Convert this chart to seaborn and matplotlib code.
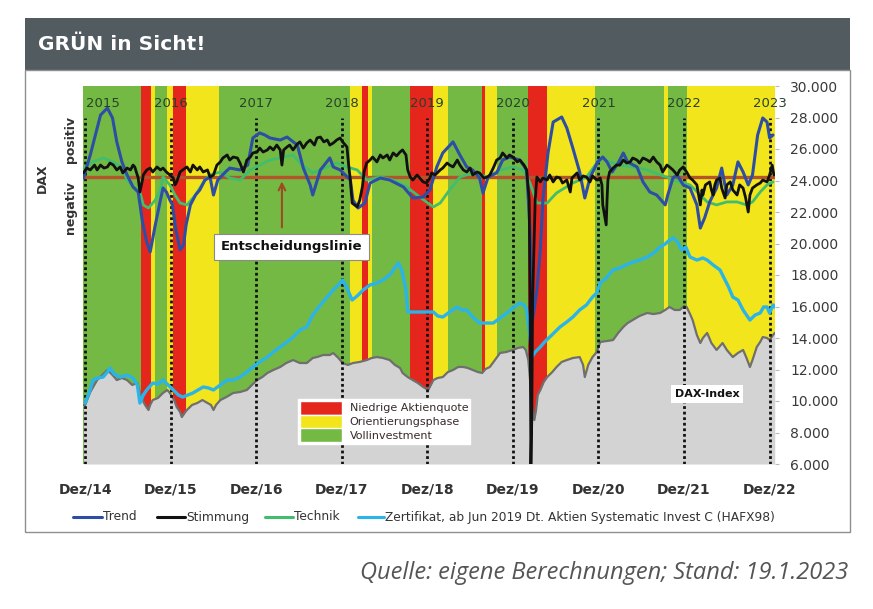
import numpy as np
import pandas as pd
import matplotlib
matplotlib.use("Agg")
import matplotlib.pyplot as plt
import seaborn as sns
from matplotlib.patches import Rectangle, Patch
from matplotlib.lines import Line2D
from matplotlib.ticker import FuncFormatter

sns.set_style("white")
plt.rcParams['font.family'] = ['DejaVu Sans']

# ---------------- data ----------------
# regime bands: boundaries (decimal years) and kind of each band
regime_bounds = [2014.97, 2015.654, 2015.768, 2015.818, 2015.954, 2016.032, 2016.176,
                 2016.569, 2018.096, 2018.232, 2018.31, 2018.349, 2018.797, 2019.069,
                 2019.244, 2019.634, 2019.673, 2019.81, 2020.18, 2020.394, 2020.958,
                 2021.764, 2021.811, 2022.033, 2023.07]
regime_kind = ['G', 'R', 'Y', 'G', 'Y', 'R', 'Y', 'G', 'Y', 'R', 'Y', 'G', 'R', 'Y',
               'G', 'R', 'Y', 'G', 'R', 'Y', 'G', 'Y', 'G', 'Y']

trend_x = [2014.98, 2015.06, 2015.18, 2015.26, 2015.32, 2015.37, 2015.43, 2015.49, 2015.56, 2015.62,
           2015.67, 2015.72, 2015.76, 2015.82, 2015.88, 2015.91, 2015.95, 2015.99, 2016.02, 2016.06,
           2016.11, 2016.15, 2016.18, 2016.23, 2016.29, 2016.34, 2016.40, 2016.46, 2016.50, 2016.55,
           2016.64, 2016.69, 2016.81, 2016.90, 2016.96, 2017.04, 2017.10, 2017.16, 2017.28, 2017.36,
           2017.48, 2017.55, 2017.63, 2017.66, 2017.75, 2017.86, 2017.90, 2017.98, 2018.10, 2018.13,
           2018.19, 2018.27, 2018.33, 2018.45, 2018.56, 2018.72, 2018.83, 2018.95, 2019.03, 2019.11,
           2019.18, 2019.30, 2019.38, 2019.46, 2019.53, 2019.61, 2019.65, 2019.71, 2019.81, 2019.88,
           2019.96, 2020.08, 2020.16, 2020.20, 2020.23, 2020.28, 2020.32, 2020.35, 2020.41, 2020.47,
           2020.57, 2020.63, 2020.70, 2020.78, 2020.84, 2020.90, 2020.99, 2021.05, 2021.10, 2021.16,
           2021.23, 2021.29, 2021.34, 2021.45, 2021.52, 2021.60, 2021.68, 2021.78, 2021.81, 2021.87,
           2021.92, 2021.99, 2022.07, 2022.15, 2022.19, 2022.24, 2022.30, 2022.38, 2022.44, 2022.50,
           2022.57, 2022.63, 2022.69, 2022.75, 2022.80, 2022.86, 2022.92, 2022.97, 2023.00, 2023.04]
trend_y = [24160, 25620, 28160, 28600, 27970, 26450, 25180, 24350, 23590, 23270,
           21370, 20100, 19460, 21180, 22760, 23520, 23270, 22760, 22450, 20860,
           19590, 19900, 21180, 22450, 23080, 23400, 24030, 24220, 23080, 24030,
           24540, 24790, 24670, 24980, 26700, 27020, 26890, 26700, 26570, 26760,
           26250, 24790, 23720, 23080, 24670, 25430, 24860, 24670, 24030, 22760,
           22250, 22570, 23840, 24160, 24030, 23590, 22890, 22950, 23400, 24860,
           25750, 26450, 25620, 24860, 24670, 24160, 23210, 24220, 24480, 25300,
           25490, 25300, 24670, 20860, 15140, 17050, 19590, 22760, 25750, 27710,
           28030, 27330, 26060, 24540, 22890, 24160, 25180, 25490, 25180, 24540,
           25110, 25750, 25180, 24860, 23910, 23270, 23080, 22450, 23080, 24160,
           24350, 23720, 23520, 22450, 20980, 21620, 22640, 23520, 24790, 23080,
           23720, 25180, 24540, 23720, 24350, 26890, 27970, 27710, 26700, 26890]

stim_x = [2014.98, 2015.02, 2015.06, 2015.11, 2015.14, 2015.18, 2015.22, 2015.26, 2015.29, 2015.33,
          2015.37, 2015.41, 2015.44, 2015.49, 2015.53, 2015.56, 2015.58, 2015.62, 2015.64, 2015.67,
          2015.68, 2015.72, 2015.76, 2015.79, 2015.84, 2015.88, 2015.91, 2015.95, 2015.99, 2016.03,
          2016.05, 2016.07, 2016.11, 2016.14, 2016.19, 2016.23, 2016.26, 2016.31, 2016.34, 2016.38,
          2016.43, 2016.46, 2016.50, 2016.54, 2016.58, 2016.61, 2016.66, 2016.69, 2016.73, 2016.78,
          2016.81, 2016.85, 2016.89, 2016.93, 2016.96, 2017.01, 2017.04, 2017.08, 2017.13, 2017.16,
          2017.20, 2017.24, 2017.28, 2017.30, 2017.32, 2017.36, 2017.39, 2017.43, 2017.48, 2017.51,
          2017.55, 2017.59, 2017.63, 2017.68, 2017.71, 2017.75, 2017.79, 2017.83, 2017.86, 2017.90,
          2017.94, 2017.98, 2018.01, 2018.06, 2018.08, 2018.10, 2018.12, 2018.18, 2018.21, 2018.24,
          2018.26, 2018.29, 2018.33, 2018.36, 2018.41, 2018.45, 2018.48, 2018.53, 2018.56, 2018.60,
          2018.64, 2018.68, 2018.71, 2018.75, 2018.77, 2018.80, 2018.83, 2018.88, 2018.91, 2018.95,
          2018.99, 2019.03, 2019.05, 2019.09, 2019.15, 2019.18, 2019.23, 2019.26, 2019.30, 2019.35,
          2019.38, 2019.42, 2019.46, 2019.50, 2019.53, 2019.58, 2019.61, 2019.66, 2019.70, 2019.73,
          2019.77, 2019.81, 2019.85, 2019.88, 2019.93, 2019.96, 2020.00, 2020.05, 2020.08, 2020.13,
          2020.16, 2020.19, 2020.20, 2020.21, 2020.22, 2020.23, 2020.26, 2020.28, 2020.32, 2020.35,
          2020.40, 2020.43, 2020.47, 2020.51, 2020.55, 2020.58, 2020.63, 2020.67, 2020.69, 2020.75,
          2020.78, 2020.82, 2020.86, 2020.90, 2020.93, 2020.98, 2021.02, 2021.04, 2021.05, 2021.07,
          2021.09, 2021.10, 2021.11, 2021.13, 2021.17, 2021.21, 2021.25, 2021.29, 2021.33, 2021.37,
          2021.40, 2021.45, 2021.48, 2021.52, 2021.57, 2021.60, 2021.64, 2021.68, 2021.72, 2021.75,
          2021.80, 2021.83, 2021.87, 2021.92, 2021.95, 2021.99, 2022.03, 2022.07, 2022.10, 2022.15,
          2022.17, 2022.19, 2022.21, 2022.22, 2022.25, 2022.30, 2022.32, 2022.34, 2022.36, 2022.38,
          2022.42, 2022.44, 2022.48, 2022.50, 2022.54, 2022.57, 2022.62, 2022.65, 2022.69, 2022.72,
          2022.75, 2022.77, 2022.80, 2022.85, 2022.89, 2022.92, 2022.97, 2023.00, 2023.03, 2023.05]
stim_y = [24480, 24790, 24670, 24980, 24670, 24980, 24790, 24860, 25110, 24980,
          24670, 24860, 24480, 24790, 24670, 24980, 24860, 24160, 23270, 24030,
          24350, 24670, 24790, 24540, 24860, 24670, 24790, 24540, 24350, 24160,
          23720, 23910, 24540, 24670, 24860, 24540, 24980, 24670, 24860, 24540,
          24670, 24220, 24350, 24980, 25180, 25430, 25620, 25300, 25490, 25430,
          25110, 24540, 25300, 25490, 25750, 25810, 26060, 25810, 25940, 26130,
          25940, 26250, 25940, 24980, 25940, 26130, 26250, 25940, 26320, 26450,
          26060, 26380, 26570, 26250, 26700, 26760, 26450, 26570, 26250, 26380,
          26570, 26700, 26450, 26130, 24980, 24030, 22570, 22320, 22760, 23590,
          24540, 25110, 25300, 25490, 25180, 25620, 25430, 25620, 25300, 25750,
          25560, 25810, 25940, 25620, 24670, 24220, 24030, 24350, 24160, 23910,
          23840, 24160, 24480, 24350, 24670, 24790, 25110, 24980, 24860, 25300,
          24980, 24670, 24540, 24790, 24350, 24540, 24480, 24160, 24220, 24350,
          24790, 25300, 25430, 25750, 25430, 25620, 25490, 25180, 25300, 24980,
          24670, 22760, 16410, 6000, 8790, 16410, 22760, 24220, 23910, 24160,
          24030, 24350, 23910, 24220, 24160, 23840, 24030, 23270, 24160, 24480,
          24030, 24290, 24220, 23910, 24290, 24030, 24160, 23720, 22450, 21810,
          21180, 22760, 24030, 24540, 24790, 24980, 24980, 25300, 25110, 25180,
          25430, 25300, 25110, 25430, 25300, 25180, 25490, 25180, 24980, 24540,
          24980, 24860, 24670, 24350, 24670, 24860, 24540, 24160, 24030, 23720,
          23080, 22450, 23400, 23080, 23720, 23910, 23400, 23080, 23720, 24030,
          24160, 23520, 22890, 23720, 23910, 23400, 23080, 23720, 23520, 22890,
          22000, 23080, 23520, 23720, 23840, 24030, 23910, 24350, 24980, 24350]

tech_x = [2014.98, 2015.09, 2015.21, 2015.33, 2015.43, 2015.49, 2015.56, 2015.64, 2015.68, 2015.74,
          2015.82, 2015.88, 2015.91, 2015.99, 2016.05, 2016.11, 2016.19, 2016.29, 2016.40, 2016.46,
          2016.58, 2016.69, 2016.81, 2016.93, 2017.04, 2017.16, 2017.28, 2017.43, 2017.51, 2017.66,
          2017.83, 2017.94, 2018.06, 2018.18, 2018.29, 2018.45, 2018.60, 2018.76, 2018.91, 2019.07,
          2019.15, 2019.26, 2019.38, 2019.53, 2019.70, 2019.85, 2020.00, 2020.12, 2020.20, 2020.28,
          2020.40, 2020.51, 2020.70, 2020.86, 2020.98, 2021.05, 2021.13, 2021.25, 2021.40, 2021.57,
          2021.72, 2021.83, 2021.95, 2022.07, 2022.19, 2022.27, 2022.38, 2022.50, 2022.62, 2022.73,
          2022.80, 2022.89, 2022.97, 2023.04]
tech_y = [24790, 25180, 25430, 25180, 24790, 24030, 23590, 23270, 22450, 22250,
          22760, 23400, 24220, 23720, 23080, 22570, 22450, 23080, 24030, 24350,
          24540, 24160, 24030, 24670, 24980, 25300, 25430, 25620, 25110, 24480,
          24860, 25110, 24860, 24670, 24030, 24220, 24030, 23590, 22950, 22320,
          22570, 23400, 24220, 24480, 24220, 24670, 24860, 24670, 23840, 22570,
          22570, 23210, 23840, 24220, 25110, 25430, 25180, 24980, 24860, 24670,
          24350, 24160, 23910, 23720, 23080, 22640, 22450, 22640, 22640, 22450,
          22640, 23270, 23720, 23910]

dax_x = [2014.98, 2015.00, 2015.06, 2015.14, 2015.20, 2015.26, 2015.32, 2015.37, 2015.43, 2015.49,
         2015.55, 2015.61, 2015.64, 2015.67, 2015.70, 2015.74, 2015.76, 2015.79, 2015.85, 2015.91,
         2015.96, 2015.99, 2016.04, 2016.07, 2016.11, 2016.13, 2016.17, 2016.19, 2016.25, 2016.31,
         2016.37, 2016.43, 2016.47, 2016.50, 2016.53, 2016.58, 2016.65, 2016.73, 2016.81, 2016.89,
         2016.95, 2017.01, 2017.07, 2017.13, 2017.20, 2017.28, 2017.35, 2017.43, 2017.51, 2017.59,
         2017.66, 2017.71, 2017.78, 2017.86, 2017.90, 2017.96, 2018.01, 2018.07, 2018.13, 2018.21,
         2018.29, 2018.35, 2018.41, 2018.48, 2018.56, 2018.62, 2018.68, 2018.71, 2018.77, 2018.83,
         2018.89, 2018.95, 2019.01, 2019.07, 2019.12, 2019.18, 2019.24, 2019.30, 2019.36, 2019.42,
         2019.47, 2019.53, 2019.59, 2019.64, 2019.68, 2019.73, 2019.79, 2019.85, 2019.92, 2020.00,
         2020.06, 2020.12, 2020.15, 2020.18, 2020.20, 2020.22, 2020.25, 2020.27, 2020.29, 2020.32,
         2020.36, 2020.40, 2020.46, 2020.51, 2020.57, 2020.63, 2020.70, 2020.78, 2020.82, 2020.84,
         2020.88, 2020.93, 2020.98, 2021.02, 2021.10, 2021.17, 2021.23, 2021.29, 2021.34, 2021.40,
         2021.48, 2021.57, 2021.64, 2021.72, 2021.78, 2021.83, 2021.89, 2021.95, 2022.00, 2022.03,
         2022.07, 2022.10, 2022.15, 2022.19, 2022.22, 2022.27, 2022.32, 2022.38, 2022.42, 2022.45,
         2022.50, 2022.57, 2022.63, 2022.69, 2022.73, 2022.77, 2022.80, 2022.85, 2022.89, 2022.92,
         2022.97, 2023.00, 2023.04, 2023.06]
dax_y = [9750, 9750, 10570, 11330, 11650, 11970, 11650, 11330, 11460, 11330,
         11020, 11140, 10570, 10060, 9750, 9430, 9750, 10060, 10190, 10510,
         10700, 10510, 10060, 9620, 9300, 8980, 9300, 9430, 9750, 9870,
         10060, 9870, 9750, 9430, 9750, 10060, 10250, 10510, 10570, 10700,
         11020, 11330, 11520, 11780, 11970, 12160, 12410, 12600, 12410, 12410,
         12730, 12790, 12920, 12920, 13050, 12730, 12410, 12290, 12410, 12480,
         12600, 12730, 12790, 12730, 12600, 12290, 12100, 11780, 11520, 11330,
         11140, 10890, 10700, 11330, 11460, 11520, 11840, 11970, 12160, 12160,
         12100, 11970, 11840, 11780, 12030, 12160, 12600, 13050, 13110, 13240,
         13370, 13430, 13240, 12600, 11330, 9620, 8790, 9430, 10380, 10700,
         11210, 11520, 11840, 12160, 12480, 12600, 12730, 12790, 12290, 11520,
         12290, 12790, 13110, 13750, 13810, 13870, 14320, 14700, 14950, 15140,
         15400, 15590, 15520, 15590, 15780, 15970, 15780, 15780, 16030, 15970,
         15520, 15140, 14190, 13680, 14000, 14320, 13680, 13240, 13490, 13680,
         13240, 12790, 13050, 13240, 12730, 12160, 12600, 13430, 13750, 14060,
         14000, 13870, 14190, 14320]

cert_x = [2015.00, 2015.05, 2015.09, 2015.15, 2015.21, 2015.26, 2015.29, 2015.34, 2015.41, 2015.49,
          2015.56, 2015.61, 2015.64, 2015.68, 2015.72, 2015.79, 2015.85, 2015.91, 2015.97, 2016.03,
          2016.09, 2016.14, 2016.20, 2016.26, 2016.32, 2016.38, 2016.44, 2016.50, 2016.58, 2016.66,
          2016.73, 2016.81, 2016.89, 2016.96, 2017.04, 2017.13, 2017.20, 2017.28, 2017.36, 2017.43,
          2017.51, 2017.59, 2017.66, 2017.75, 2017.83, 2017.90, 2017.96, 2018.01, 2018.07, 2018.12,
          2018.18, 2018.25, 2018.33, 2018.41, 2018.48, 2018.56, 2018.62, 2018.66, 2018.70, 2018.75,
          2018.77, 2018.91, 2019.07, 2019.12, 2019.18, 2019.26, 2019.35, 2019.40, 2019.46, 2019.53,
          2019.61, 2019.70, 2019.77, 2019.85, 2019.93, 2020.00, 2020.08, 2020.13, 2020.16, 2020.19,
          2020.22, 2020.26, 2020.32, 2020.37, 2020.43, 2020.49, 2020.55, 2020.63, 2020.70, 2020.78,
          2020.86, 2020.93, 2020.98, 2021.02, 2021.09, 2021.17, 2021.25, 2021.37, 2021.48, 2021.57,
          2021.66, 2021.72, 2021.78, 2021.83, 2021.88, 2021.93, 2021.97, 2022.02, 2022.07, 2022.15,
          2022.22, 2022.27, 2022.34, 2022.42, 2022.48, 2022.52, 2022.57, 2022.63, 2022.69, 2022.73,
          2022.77, 2022.83, 2022.89, 2022.93, 2022.97, 2023.00, 2023.04, 2023.06]
cert_y = [9870, 10570, 11330, 11460, 11520, 11840, 12100, 11710, 11520, 11650,
          11460, 11020, 9870, 10380, 10700, 11140, 11080, 11330, 11020, 10700,
          10380, 10250, 10380, 10510, 10700, 10890, 10830, 10700, 11020, 11330,
          11330, 11520, 11840, 12160, 12480, 12790, 13110, 13430, 13750, 14060,
          14510, 14700, 15460, 16100, 16600, 17050, 17370, 17680, 17050, 16410,
          16670, 17050, 17370, 17490, 17680, 18000, 18450, 18760, 18320, 17050,
          15650, 15650, 15650, 15400, 15330, 15650, 15970, 15780, 15780, 15330,
          14950, 14950, 14950, 15270, 15590, 15910, 16220, 16100, 15780, 14510,
          12790, 13110, 13430, 13750, 14060, 14380, 14700, 15020, 15330, 15780,
          16100, 16600, 16860, 17490, 17810, 18320, 18450, 18760, 18950, 19140,
          19460, 19780, 19970, 20220, 20350, 20030, 19590, 19780, 19140, 18950,
          19080, 18950, 18640, 18320, 17680, 17240, 16600, 16410, 15780, 15460,
          15140, 15460, 15590, 15970, 15970, 15590, 16100, 15970]

decision_level = 24200
year_marks = [2015, 2016, 2017, 2018, 2019, 2020, 2021, 2022, 2023]
bottom_labels = ['Dez/14', 'Dez/15', 'Dez/16', 'Dez/17', 'Dez/18', 'Dez/19', 'Dez/20', 'Dez/21', 'Dez/22']
top_labels = ['2015', '2016', '2017', '2018', '2019', '2020', '2021', '2022', '2023']
y_ticks = [6000, 8000, 10000, 12000, 14000, 16000, 18000, 20000, 22000, 24000, 26000, 28000, 30000]

# ---------------- styling ----------------
C_GREEN, C_YELLOW, C_RED = '#74b944', '#f2e51b', '#e4261d'
band_col = {'G': C_GREEN, 'Y': C_YELLOW, 'R': C_RED}
C_TREND, C_STIM, C_TECH, C_CERT = '#2e4ea6', '#111111', '#42bd6e', '#2ab4e8'

W, H = 873, 609
fig = plt.figure(figsize=(W / 100, H / 100), dpi=100)
fig.patch.set_facecolor('white')

def fx(px):
    return px / W

def fy(py):
    return 1 - py / H

# header bar and frame
fig.patches.append(Rectangle((fx(25), fy(70)), fx(850) - fx(25), fy(18) - fy(70),
                             transform=fig.transFigure, facecolor='#525c60', edgecolor='none', zorder=0))
fig.patches.append(Rectangle((fx(25), fy(532)), fx(850) - fx(25), fy(70) - fy(532),
                             transform=fig.transFigure, fill=False, edgecolor='#8f8f8f', lw=1.0, zorder=0))
fig.text(fx(38), fy(45), 'GRÜN in Sicht!', color='white', fontsize=14.5, fontweight='bold',
         va='center', ha='left')

ax = fig.add_axes([fx(83), fy(464), fx(775) - fx(83), fy(86) - fy(464)])
ax.set_xlim(2014.975, 2023.063)
ax.set_ylim(6000, 30000)

# regime bands
for i, k in enumerate(regime_kind):
    ax.axvspan(regime_bounds[i], regime_bounds[i + 1], color=band_col[k], lw=0, zorder=0)

# DAX area
ax.fill_between(dax_x, 6000, dax_y, color='#d3d3d3', lw=0, zorder=1)
sns.lineplot(x=dax_x, y=dax_y, ax=ax, color='#6f6f6f', lw=1.6, estimator=None, sort=False, zorder=2)

# dotted year lines
ax.vlines(year_marks, 6000, 28000, colors='#111111', linestyles=(0, (1, 1)), lw=2.0, zorder=2.5)

# Zertifikat
sns.lineplot(x=cert_x, y=cert_y, ax=ax, color=C_CERT, lw=2.4, estimator=None, sort=False, zorder=3)

# decision line
ax.axhline(decision_level, color='#b4542a', lw=2.4, zorder=3.2)

# indicators
sns.lineplot(x=tech_x, y=tech_y, ax=ax, color=C_TECH, lw=2.0, estimator=None, sort=False, zorder=4)
sns.lineplot(x=trend_x, y=trend_y, ax=ax, color=C_TREND, lw=2.2, estimator=None, sort=False, zorder=5)
sns.lineplot(x=stim_x, y=stim_y, ax=ax, color=C_STIM, lw=2.0, estimator=None, sort=False, zorder=6)

# axes styling
for s in ax.spines.values():
    s.set_visible(False)
ax.set_xlabel('')
ax.set_ylabel('')
ax.yaxis.tick_right()
ax.set_yticks(y_ticks)
ax.yaxis.set_major_formatter(FuncFormatter(lambda v, p: f"{v:,.0f}".replace(',', '.')))
ax.tick_params(axis='y', length=3, color='#bbbbbb', pad=8, labelsize=10, labelcolor='#3a3a3a')
ax.set_xticks(year_marks)
ax.set_xticklabels(bottom_labels)
ax.tick_params(axis='x', length=0, pad=13, labelsize=10, labelcolor='#333333')
for t in ax.get_xticklabels():
    t.set_fontweight('bold')

# top year labels
for yr, lab in zip(year_marks, top_labels):
    xpos = yr + 0.21 if yr == 2015 else yr
    ax.text(xpos, 28900, lab, ha='center', va='center', fontsize=9.5, color='#26432a', zorder=7)

# decision label + arrow
ax.annotate('', xy=(2017.30, 24120), xytext=(2017.30, 20850),
            arrowprops=dict(arrowstyle='->', color='#9c4b22', lw=1.5, mutation_scale=12), zorder=7)
ax.text(2017.41, 19780, 'Entscheidungslinie', ha='center', va='center', fontsize=9.5,
        fontweight='bold', color='#111111', zorder=8,
        bbox=dict(boxstyle='square,pad=0.5', fc='white', ec='#8a8a8a', lw=0.8))

ax.text(2022.27, 10450, 'DAX-Index', ha='center', va='center', fontsize=8, fontweight='bold',
        color='#111111', zorder=8, bbox=dict(boxstyle='square,pad=0.35', fc='white', ec='none'))

# regime legend
handles = [Patch(facecolor=C_RED), Patch(facecolor=C_YELLOW), Patch(facecolor=C_GREEN)]
leg = ax.legend(handles, ['Niedrige Aktienquote', 'Orientierungsphase', 'Vollinvestment'],
                loc='upper left', bbox_to_anchor=((298 - 83) / 692, (464 - 399) / 378),
                bbox_transform=ax.transAxes, fontsize=8, handlelength=3.8, handleheight=1.55,
                labelspacing=0.0, borderpad=0.15, borderaxespad=0, handletextpad=0.7,
                frameon=True, fancybox=False, framealpha=1, edgecolor='white')
leg.set_zorder(9)
for t in leg.get_texts():
    t.set_color('#3a2a2a')

# left rotated labels
fig.text(fx(42), fy(178), 'DAX', rotation=90, ha='center', va='center', fontsize=9,
         fontweight='bold', color='#333333')
fig.text(fx(71), fy(139), 'positiv', rotation=90, ha='center', va='center', fontsize=9,
         fontweight='bold', color='#333333')
fig.text(fx(71), fy(208), 'negativ', rotation=90, ha='center', va='center', fontsize=9,
         fontweight='bold', color='#333333')

# bottom line legend
items = [(73, 102, C_TREND, 'Trend'), (157, 185, C_STIM, 'Stimmung'),
         (265, 293, C_TECH, 'Technik'),
         (358, 384, C_CERT, 'Zertifikat, ab Jun 2019 Dt. Aktien Systematic Invest C (HAFX98)')]
for x0, x1, c, lab in items:
    fig.add_artist(Line2D([fx(x0), fx(x1)], [fy(517), fy(517)], color=c, lw=2.2,
                          transform=fig.transFigure))
    fig.text(fx(x1 + 1), fy(517), lab, ha='left', va='center', fontsize=8.8, color='#333333')

# source
fig.text(fx(848), fy(573), 'Quelle: eigene Berechnungen; Stand: 19.1.2023', ha='right', va='center',
         fontsize=17, style='italic', color='#555555', family=['Open Sans', 'DejaVu Sans'])

fig.savefig('out.png', dpi=100)
